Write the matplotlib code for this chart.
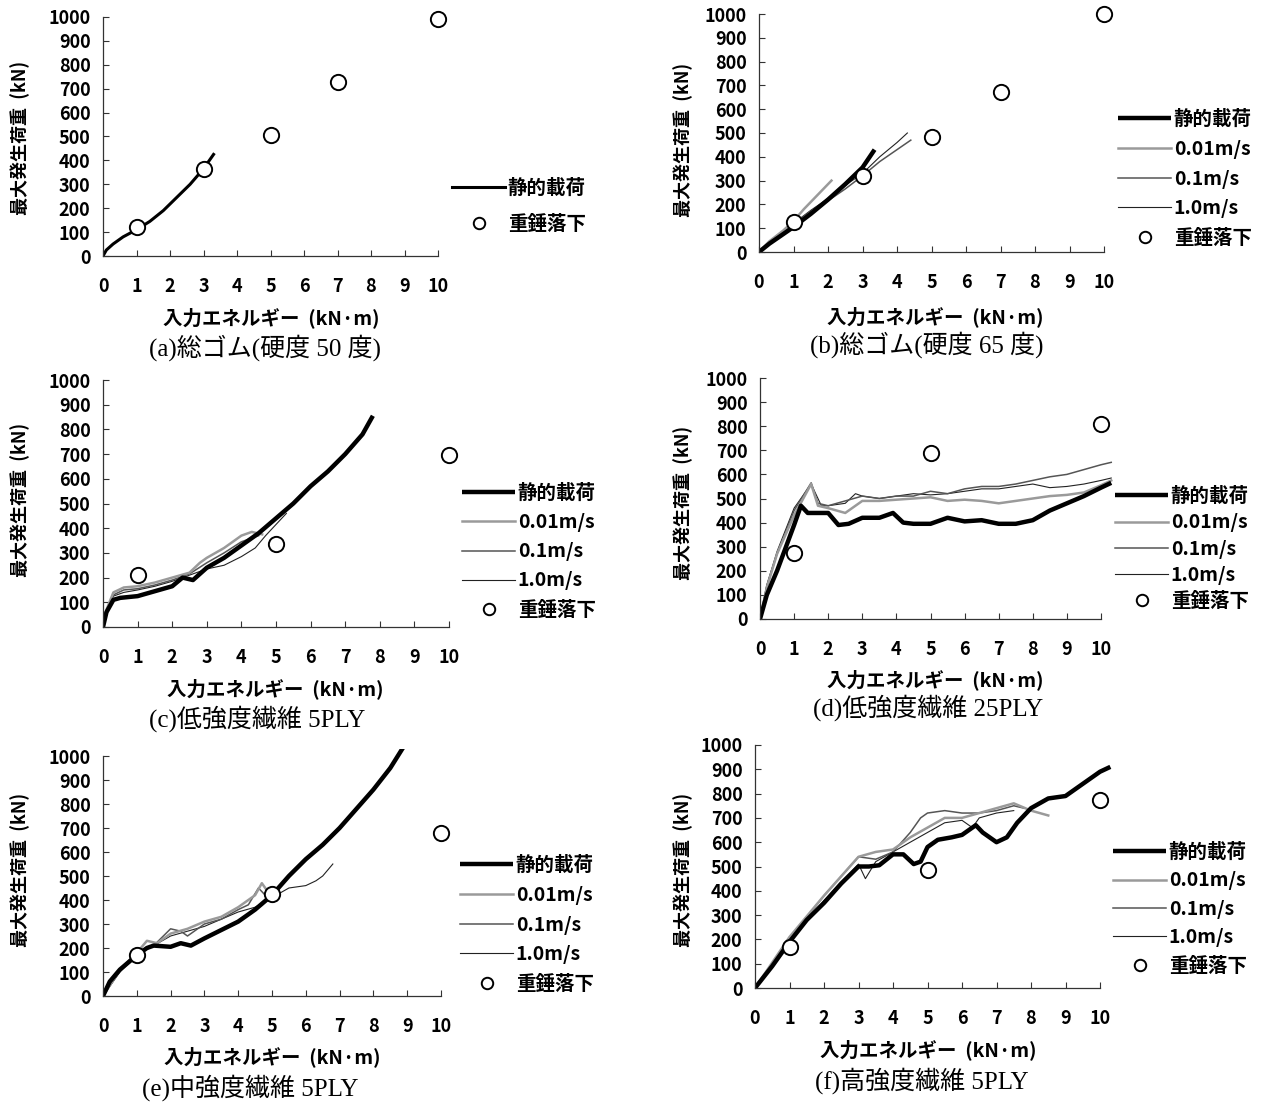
import matplotlib
matplotlib.use('Agg')
import matplotlib.pyplot as plt
from matplotlib.lines import Line2D

plt.rcParams['font.family'] = ['Noto Sans CJK JP', 'DejaVu Sans']

W, H = 1269, 1102
fig = plt.figure(figsize=(W / 100, H / 100), dpi=100)

# ---------------- data ----------------
xticks = list(range(0, 11))
yticks = list(range(0, 1001, 100))
label_static = '静的載荷'
label_v001 = '0.01m/s'
label_v01 = '0.1m/s'
label_v10 = '1.0m/s'
label_drop = '重錘落下'
xlabel_text = '入力エネルギー  (kN·m)'
ylabel_text = '最大発生荷重  (kN)'
captions = ['(a)総ゴム(硬度 50 度)', '(b)総ゴム(硬度 65 度)', '(c)低強度繊維 5PLY',
            '(d)低強度繊維 25PLY', '(e)中強度繊維 5PLY', '(f)高強度繊維 5PLY']

# (a)
a_static_x = [0, 0.1, 0.3, 0.6, 1.0, 1.4, 1.8, 2.2, 2.6, 3.0, 3.3]
a_static_y = [0, 25, 50, 80, 110, 145, 190, 245, 300, 365, 425]
a_drop_x = [1, 3, 5, 7, 10]
a_drop_y = [120, 365, 505, 730, 990]

# (b)
b_static_x = [0, 0.3, 0.7, 1.0, 1.5, 2.0, 2.5, 3.0, 3.35]
b_static_y = [0, 35, 75, 105, 160, 220, 285, 355, 430]
b_v001_x = [0, 0.3, 0.7, 1.0, 1.3, 1.6, 1.9, 2.1]
b_v001_y = [0, 45, 90, 130, 180, 225, 270, 300]
b_v01_x = [0, 0.3, 0.7, 1.0, 1.5, 2.0, 2.5, 3.0, 3.5, 4.0, 4.4]
b_v01_y = [0, 40, 85, 120, 170, 215, 265, 320, 380, 430, 470]
b_v10_x = [0, 0.3, 0.7, 1.0, 1.5, 2.0, 2.5, 3.0, 3.5, 4.0, 4.3]
b_v10_y = [0, 40, 85, 120, 175, 225, 280, 330, 400, 460, 500]
b_drop_x = [1, 3, 5, 7, 10]
b_drop_y = [125, 320, 485, 672, 1000]

# (c)
c_static_x = [0, 0.1, 0.3, 0.5, 1.0, 1.5, 2.0, 2.3, 2.6, 3.0, 3.5, 4.0, 4.5, 5.0, 5.5, 6.0, 6.5, 7.0, 7.5, 7.8]
c_static_y = [0, 60, 110, 118, 125, 145, 165, 200, 190, 240, 280, 330, 380, 440, 500, 570, 630, 700, 780, 855]
c_v001_x = [0, 0.1, 0.3, 0.6, 1.0, 1.5, 2.0, 2.5, 2.8, 3.0, 3.5, 4.0, 4.3, 4.6]
c_v001_y = [0, 70, 140, 160, 165, 180, 200, 220, 260, 280, 320, 370, 385, 375]
c_v01_x = [0, 0.1, 0.3, 0.6, 1.0, 1.5, 2.0, 2.5, 3.0, 3.5, 4.0, 4.5]
c_v01_y = [0, 65, 130, 150, 155, 170, 190, 215, 260, 300, 345, 370]
c_v10_x = [0, 0.1, 0.3, 0.6, 1.0, 1.5, 2.0, 2.5, 3.0, 3.5, 4.0, 4.4, 4.7, 5.0, 5.3]
c_v10_y = [0, 60, 125, 140, 150, 165, 185, 210, 235, 250, 285, 320, 370, 415, 460]
c_drop_x = [1, 5, 10]
c_drop_y = [212, 335, 695]

# (d)
d_static_x = [0, 0.2, 0.5, 1.0, 1.2, 1.4, 1.7, 2.0, 2.3, 2.6, 3.0, 3.5, 3.9, 4.2, 4.5, 5.0, 5.5, 6.0, 6.5, 7.0, 7.5, 8.0, 8.5, 9.0, 9.5, 10.0, 10.3]
d_static_y = [0, 100, 200, 390, 470, 440, 440, 440, 390, 395, 420, 420, 440, 400, 395, 395, 420, 405, 410, 395, 395, 410, 450, 480, 510, 545, 565]
d_v001_x = [0, 0.2, 0.5, 1.0, 1.5, 1.7, 2.0, 2.5, 2.7, 3.0, 3.5, 4.0, 4.5, 5.0, 5.5, 6.0, 6.5, 7.0, 7.5, 8.0, 8.5, 9.0, 9.5, 10.0, 10.3]
d_v001_y = [0, 130, 270, 430, 560, 470, 460, 440, 460, 490, 490, 495, 500, 505, 490, 495, 490, 480, 490, 500, 510, 515, 525, 555, 575]
d_v01_x = [0, 0.2, 0.5, 1.0, 1.5, 1.7, 2.0, 2.5, 3.0, 3.5, 4.0, 4.5, 5.0, 5.5, 6.0, 6.5, 7.0, 7.5, 8.0, 8.5, 9.0, 9.5, 10.0, 10.3]
d_v01_y = [0, 140, 270, 450, 565, 480, 470, 490, 510, 500, 510, 510, 530, 520, 540, 550, 550, 560, 575, 590, 600, 620, 640, 650]
d_v10_x = [0, 0.2, 0.5, 1.0, 1.5, 1.8, 2.0, 2.5, 2.8, 3.0, 3.5, 4.0, 4.5, 5.0, 5.5, 6.0, 6.5, 7.0, 7.5, 8.0, 8.5, 9.0, 9.5, 10.0, 10.3]
d_v10_y = [0, 140, 280, 460, 560, 470, 470, 480, 520, 510, 500, 510, 520, 515, 520, 530, 540, 540, 550, 560, 545, 550, 560, 575, 585]
d_drop_x = [1, 5, 10]
d_drop_y = [275, 690, 810]

# (e)
e_static_x = [0, 0.2, 0.5, 1.0, 1.3, 1.5, 2.0, 2.3, 2.6, 3.0, 3.5, 4.0, 4.5, 5.0, 5.5, 6.0, 6.5, 7.0, 7.5, 8.0, 8.5, 8.9]
e_static_y = [0, 60, 110, 170, 200, 210, 205, 220, 210, 240, 275, 310, 360, 420, 500, 570, 630, 700, 780, 860, 950, 1040]
e_v001_x = [0, 0.5, 1.0, 1.3, 1.6, 2.0, 2.5, 3.0, 3.5, 4.0, 4.5, 4.7, 4.9]
e_v001_y = [0, 110, 180, 230, 220, 260, 280, 310, 330, 370, 420, 470, 430]
e_v01_x = [0, 0.5, 1.0, 1.5, 2.0, 2.3, 2.5, 3.0, 3.5, 4.0, 4.3, 4.6, 4.8]
e_v01_y = [0, 105, 175, 210, 280, 270, 250, 300, 320, 360, 380, 450, 420]
e_v10_x = [0, 0.5, 1.0, 2.0, 3.0, 4.0, 4.5, 5.0, 5.5, 6.0, 6.3, 6.5, 6.8]
e_v10_y = [0, 100, 170, 250, 290, 350, 370, 410, 450, 460, 480, 500, 550]
e_drop_x = [1, 5, 10]
e_drop_y = [170, 425, 680]

# (f)
f_static_x = [0, 0.5, 1.0, 1.5, 2.0, 2.5, 3.0, 3.3, 3.6, 4.0, 4.3, 4.6, 4.8, 5.0, 5.3, 5.7, 6.0, 6.4, 6.6, 7.0, 7.3, 7.6, 8.0, 8.5, 9.0, 9.5, 10.0, 10.3]
f_static_y = [0, 90, 190, 280, 350, 430, 500, 500, 505, 550, 550, 510, 520, 580, 610, 620, 630, 670, 640, 600, 620, 680, 740, 780, 790, 840, 890, 910]
f_v001_x = [0, 1.0, 2.0, 3.0, 3.5, 4.0, 4.5, 5.0, 5.5, 6.0, 6.5, 7.0, 7.5, 8.0, 8.5]
f_v001_y = [0, 210, 380, 540, 560, 570, 620, 660, 700, 700, 720, 740, 760, 730, 710]
f_v01_x = [0, 1.0, 2.0, 2.5, 3.0, 3.5, 4.0, 4.5, 4.8, 5.0, 5.5, 6.0, 6.5, 7.0, 7.5, 7.8]
f_v01_y = [0, 200, 380, 460, 540, 530, 560, 640, 700, 720, 730, 720, 720, 730, 750, 740]
f_v10_x = [0, 1.0, 2.0, 3.0, 3.2, 3.5, 4.0, 4.5, 5.0, 5.5, 6.0, 6.3, 6.5, 7.0, 7.5]
f_v10_y = [0, 200, 360, 510, 450, 520, 560, 600, 640, 680, 690, 660, 700, 720, 730]
f_drop_x = [1, 5, 10]
f_drop_y = [170, 485, 775]

# ---------------- styles ----------------
st_static = dict(color='black', lw=3.2, solid_capstyle='butt')
st_v001 = dict(color='#9a9a9a', lw=1.8)
st_v01 = dict(color='#555555', lw=1.1)
st_v10 = dict(color='#222222', lw=0.8)
st_drop = dict(ls='none', marker='o', ms=11, mfc='white', mec='black', mew=1.4)


def px2fig(x, y):
    return x / W, 1 - y / H


def make_ax(x0, x10, y0, y1000):
    ux = (x10 - x0) / 10.0
    uy = (y0 - y1000) / 1000.0
    left, bottom = px2fig(x0, y0)
    ax = fig.add_axes([left, bottom, 10.5 * ux / W, 1030 * uy / H])
    ax.set_xlim(0, 10.5)
    ax.set_ylim(0, 1030)
    for s in ('top', 'right'):
        ax.spines[s].set_visible(False)
    ax.spines['left'].set_bounds(0, 1000)
    ax.spines['bottom'].set_bounds(0, 10)
    for s in ('left', 'bottom'):
        ax.spines[s].set_linewidth(0.9)
        ax.spines[s].set_color('#333333')
    ax.set_xticks(xticks)
    ax.set_yticks(yticks)
    ax.tick_params(direction='in', length=4, width=0.8, color='#333333')
    ax.tick_params(axis='x', pad=15)
    ax.tick_params(axis='y', pad=9)
    for lab in ax.get_xticklabels() + ax.get_yticklabels():
        lab.set_fontsize(13)
        lab.set_fontweight('bold')
    ax.patch.set_alpha(0)
    return ax


def add_texts(xl, yl, yc, cap):
    fig.text(*px2fig(*xl), xlabel_text, ha='center', va='center', fontsize=14, fontweight='bold')
    fig.text(*px2fig(*yl), ylabel_text, ha='center', va='center', rotation=90, fontsize=13, fontweight='bold')
    fig.text(*px2fig(*yc), cap, ha='center', va='center', fontsize=18,
             family=['Liberation Serif', 'Noto Sans CJK JP'])


def add_legend(ax, handles, x, y, spacing):
    ax.legend(handles=handles, loc='upper left', bbox_to_anchor=px2fig(x, y),
              bbox_transform=fig.transFigure, frameon=False, borderpad=0, borderaxespad=0,
              handlelength=2.75, handletextpad=0.12, labelspacing=spacing, markerscale=0.75,
              prop=dict(size=14, weight='bold'))


h_static = Line2D([], [], label=label_static, **st_static)
h_v001 = Line2D([], [], label=label_v001, **st_v001)
h_v01 = Line2D([], [], label=label_v01, **st_v01)
h_v10 = Line2D([], [], label=label_v10, **st_v10)
h_drop = Line2D([], [], label=label_drop, **st_drop)
full_handles = [h_static, h_v001, h_v01, h_v10, h_drop]

# (a)
ax = make_ax(103, 438, 256, 17)
ax.plot(a_static_x, a_static_y, color='black', lw=2.2)
ax.plot(a_drop_x, a_drop_y, clip_on=False, zorder=5, **st_drop)
h_static_a = Line2D([], [], label=label_static, color='black', lw=2.2)
add_legend(ax, [h_static_a, h_drop], 452, 179, 0.86)
add_texts((271, 318), (20, 138), (265, 348), captions[0])

# (b)
ax = make_ax(759, 1104, 252, 14)
ax.plot(b_v10_x, b_v10_y, **st_v10)
ax.plot(b_v01_x, b_v01_y, **st_v01)
ax.plot(b_v001_x, b_v001_y, **st_v001)
ax.plot(b_static_x, b_static_y, **st_static)
ax.plot(b_drop_x, b_drop_y, clip_on=False, zorder=5, **st_drop)
add_legend(ax, full_handles, 1118, 110, 0.55)
add_texts((935, 317), (683, 140), (927, 345), captions[1])

# (c)
ax = make_ax(103, 449, 627, 380)
ax.plot(c_v10_x, c_v10_y, **st_v10)
ax.plot(c_v01_x, c_v01_y, **st_v01)
ax.plot(c_v001_x, c_v001_y, **st_v001)
ax.plot(c_static_x, c_static_y, **st_static)
ax.plot(c_drop_x, c_drop_y, clip_on=False, zorder=5, **st_drop)
add_legend(ax, full_handles, 462, 484, 0.52)
add_texts((275, 689), (20, 500), (257, 719), captions[2])

# (d)
ax = make_ax(760, 1101, 619, 378)
ax.plot(d_v10_x, d_v10_y, **st_v10)
ax.plot(d_v01_x, d_v01_y, **st_v01)
ax.plot(d_v001_x, d_v001_y, **st_v001)
ax.plot(d_static_x, d_static_y, **st_static)
ax.plot(d_drop_x, d_drop_y, clip_on=False, zorder=5, **st_drop)
add_legend(ax, full_handles, 1115, 487, 0.37)
add_texts((935, 680), (683, 503), (928, 708), captions[3])

# (e)
ax = make_ax(103, 441, 996, 756)
ax.plot(e_v10_x, e_v10_y, **st_v10)
ax.plot(e_v01_x, e_v01_y, **st_v01)
ax.plot(e_v001_x, e_v001_y, **st_v001)
ax.plot(e_static_x, e_static_y, **st_static)
ax.plot(e_drop_x, e_drop_y, clip_on=False, zorder=5, **st_drop)
add_legend(ax, full_handles, 460, 856, 0.55)
add_texts((272, 1057), (20, 870), (250, 1088), captions[4])

# (f)
ax = make_ax(755, 1100, 988, 745)
ax.plot(f_v10_x, f_v10_y, **st_v10)
ax.plot(f_v01_x, f_v01_y, **st_v01)
ax.plot(f_v001_x, f_v001_y, **st_v001)
ax.plot(f_static_x, f_static_y, **st_static)
ax.plot(f_drop_x, f_drop_y, clip_on=False, zorder=5, **st_drop)
add_legend(ax, full_handles, 1113, 843, 0.48)
add_texts((928, 1050), (683, 870), (922, 1081), captions[5])

fig.savefig('out.png', dpi=100)
